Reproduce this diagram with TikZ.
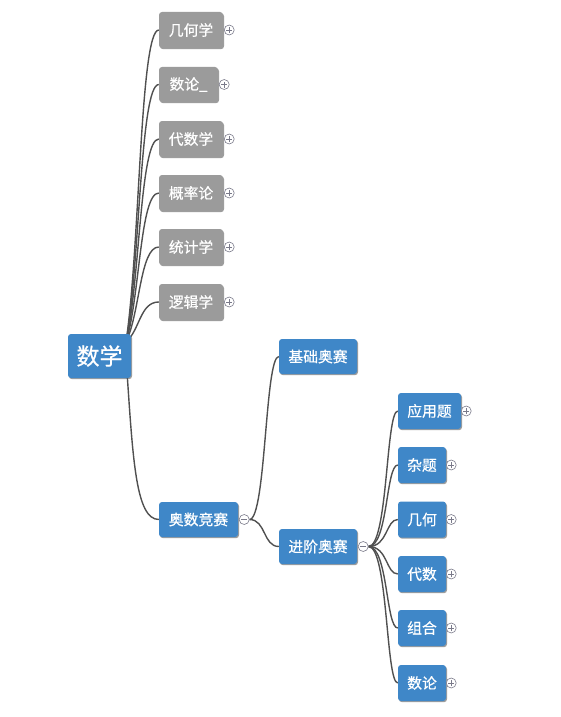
\documentclass[tikz,border=0pt]{standalone}
\usepackage{fontspec}
\setmainfont[FakeBold=0.6]{Noto Sans CJK SC}
\usetikzlibrary{shadows,backgrounds,calc}
\definecolor{gbox}{HTML}{9B9B9B}
\definecolor{bbox}{HTML}{3F87C8}
\definecolor{lnk}{HTML}{505050}
\definecolor{mk}{HTML}{7A7A8A}
\begin{document}
\begin{tikzpicture}[x=1pt,y=-1pt,
  box/.style={rounded corners=3pt, text=white, inner sep=0pt, minimum height=36pt,
    font=\fontsize{14.8}{14.8}\selectfont,
    drop shadow={shadow xshift=1pt,shadow yshift=-1.2pt,opacity=0.55,fill=black!70}},
  gbx/.style={box, fill=gbox},
  bbx/.style={box, fill=bbox},
  lk/.style={draw=lnk, line width=1.4pt},
  mkcirc/.style={circle, draw=mk, fill=white, line width=0.6pt, minimum size=10pt, inner sep=0pt},
  plusmk/.style={mkcirc, path picture={
     \draw[mk, line width=0.6pt] ([xshift=-3pt]path picture bounding box.center) -- ([xshift=3pt]path picture bounding box.center);
     \draw[mk, line width=0.6pt] ([yshift=-3pt]path picture bounding box.center) -- ([yshift=3pt]path picture bounding box.center);}},
  minusmk/.style={mkcirc, path picture={
     \draw[mk, line width=0.6pt] ([xshift=-3pt]path picture bounding box.center) -- ([xshift=3pt]path picture bounding box.center);}}
]
\useasboundingbox (0,0) rectangle (560,717);

% root
\node[bbx, minimum width=63pt, minimum height=44pt, font=\fontsize{23}{23}\selectfont] (root) at (99.5,356) {数学};

% gray branches
\node[gbx, minimum width=64pt] (g1) at (191,30) {几何学};
\node[gbx, minimum width=59pt, minimum height=35pt] (g2) at (188.5,84.5) {数论\_};
\node[gbx, minimum width=64pt] (g3) at (191,139) {代数学};
\node[gbx, minimum width=64pt] (g4) at (191,193) {概率论};
\node[gbx, minimum width=64pt] (g5) at (191,247) {统计学};
\node[gbx, minimum width=64pt] (g6) at (191,302) {逻辑学};

\foreach \n in {g1,g2,g3,g4,g5,g6}{
  \node[plusmk] (p\n) at ([xshift=6pt]\n.east) {};
}

% olympiad
\node[bbx, minimum width=79pt, minimum height=35pt] (ao) at (198.5,519.5) {奥数竞赛};
\node[minusmk] (mao) at ([xshift=6pt]ao.east) {};
\node[bbx, minimum width=78pt, minimum height=35pt] (jc) at (318,356.5) {基础奥赛};
\node[bbx, minimum width=78pt, minimum height=35pt] (jj) at (318,546.5) {进阶奥赛};
\node[minusmk] (mjj) at ([xshift=6pt]jj.east) {};

\node[bbx, minimum width=63pt] (c1) at (429.5,411) {应用题};
\node[bbx, minimum width=48pt] (c2) at (422,465) {杂题};
\node[bbx, minimum width=48pt] (c3) at (422,519.5) {几何};
\node[bbx, minimum width=48pt] (c4) at (422,574) {代数};
\node[bbx, minimum width=48pt] (c5) at (422,628) {组合};
\node[bbx, minimum width=48pt] (c6) at (422,683) {数论};
\foreach \n in {c1,c2,c3,c4,c5,c6}{
  \node[plusmk] (p\n) at ([xshift=5pt]\n.east) {};
}

\coordinate (rs) at (126,342);
\coordinate (rb) at (127,372);

\begin{pgfonlayer}{background}
  \draw[lk] (rs) .. controls (140,248) and (140,30) .. (g1.west);
  \draw[lk] (rs) .. controls (140,265) and (140,84.5) .. (g2.west);
  \draw[lk] (rs) .. controls (140,282) and (140,139) .. (g3.west);
  \draw[lk] (rs) .. controls (140,297) and (140,193) .. (g4.west);
  \draw[lk] (rs) .. controls (140,313) and (140,247) .. (g5.west);
  \draw[lk] (rs) .. controls (140,330) and (140,302) .. (g6.west);
  \draw[lk] (rb) .. controls (133,460) and (136,519.5) .. (ao.west);
  \draw[lk] (mao.east) .. controls (266,519.5) and (265,356.5) .. (jc.west);
  \draw[lk] (mao.east) .. controls (266,519.5) and (263,546.5) .. (jj.west);
  \foreach \n in {c1,c2,c3,c4,c5,c6}{
    \draw[lk] (mjj.east) .. controls (388,546.5) and ($(\n.west)+(-12,0)$) .. (\n.west);
  }
\end{pgfonlayer}
\end{tikzpicture}
\end{document}
